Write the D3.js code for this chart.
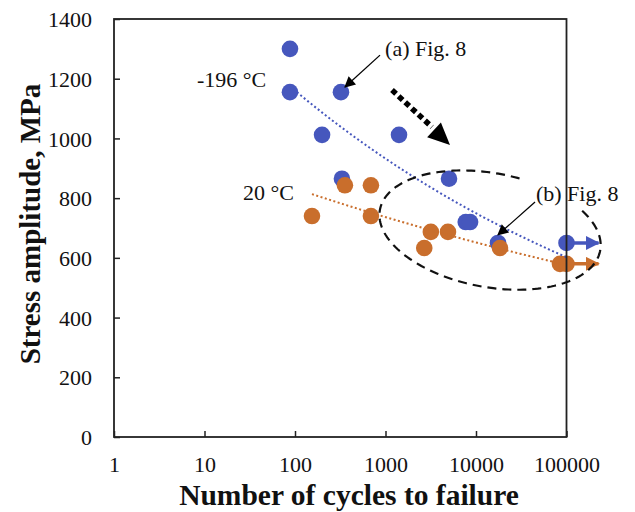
<!DOCTYPE html>
<html>
<head>
<meta charset="utf-8">
<script src="https://cdn.jsdelivr.net/npm/d3@7"></script>
<style>
  body { margin: 0; background: #fff; }
  svg { display: block; }
  text { font-family: "Liberation Serif", "Times New Roman", serif; fill: #111; }
</style>
</head>
<body>
<div id="grafico"></div>
<script>
// curva S-N: amplitud de tension vs ciclos a la falla, -196 °C y 20 °C

// serie -196 °C (azul)
var ciclosFrio = [88, 88, 322, 199, 1410, 330, 5030, 7700, 8600, 17500, 100000];
var tensionFrio = [1300, 1155, 1155, 1012, 1012, 865, 865, 720, 720, 650, 650];

// serie 20 °C (naranja)
var ciclosAmb = [154, 356, 690, 690, 3170, 4900, 2680, 18400, 84700, 100000];
var tensionAmb = [740, 843, 843, 740, 687, 687, 633, 633, 580, 580];

// ensayos que no rompieron (flecha a la derecha)
var runoutFrio = [[100000, 650]];
var runoutAmb = [[100000, 580]];

var ticksX = [1, 10, 100, 1000, 10000, 100000];
var ticksY = [0, 200, 400, 600, 800, 1000, 1200, 1400];

var AZUL = "#4657bd";
var NARANJA = "#c96e2c";

var W = 635, H = 512;
var x = d3.scaleLog().domain([1, 100000]).range([114, 566.5]);
var y = d3.scaleLinear().domain([0, 1400]).range([437, 19]);

var svg = d3.select("#grafico").append("svg").attr("width", W).attr("height", H);

var defs = svg.append("defs");
function marcador(id, color, w, h) {
  defs.append("marker")
    .attr("id", id)
    .attr("viewBox", "0 0 10 10")
    .attr("refX", 9).attr("refY", 5)
    .attr("markerUnits", "userSpaceOnUse")
    .attr("markerWidth", w).attr("markerHeight", h)
    .attr("orient", "auto")
    .append("path").attr("d", "M0,0 L10,5 L0,10 Z").attr("fill", color);
}
marcador("flechaNegra", "#000", 13, 11);
marcador("flechaAzul", AZUL, 14, 14);
marcador("flechaNaranja", NARANJA, 14, 14);

// ajuste potencial tipo excel: log y = a + b log x
function ajustePotencia(xs, ys) {
  var lx = xs.map(Math.log10), ly = ys.map(Math.log10);
  var mx = d3.mean(lx), my = d3.mean(ly);
  var sxy = d3.sum(lx, function (v, i) { return (v - mx) * (ly[i] - my); });
  var sxx = d3.sum(lx, function (v) { return (v - mx) * (v - mx); });
  var b = sxy / sxx, a = my - b * mx;
  var xmin = d3.min(xs), xmax = d3.max(xs);
  return d3.range(0, 61).map(function (i) {
    var l = Math.log10(xmin) + (Math.log10(xmax) - Math.log10(xmin)) * i / 60;
    return [Math.pow(10, l), Math.pow(10, a + b * l)];
  });
}

// ejes (ticks hacia adentro)
var ejeX = d3.axisBottom(x).tickValues(ticksX).tickFormat(d3.format("d")).tickSizeInner(-6).tickSizeOuter(0).tickPadding(14);
var ejeY = d3.axisLeft(y).tickValues(ticksY).tickFormat(d3.format("d")).tickSizeInner(-6).tickSizeOuter(0).tickPadding(22);

var gx = svg.append("g").attr("transform", "translate(0,437)").call(ejeX);
var gy = svg.append("g").attr("transform", "translate(114,0)").call(ejeY);
[gx, gy].forEach(function (g) {
  g.select(".domain").remove();
  g.selectAll(".tick line").attr("stroke", "#222").attr("stroke-width", 1.5);
  g.selectAll(".tick text").style("font-size", "22px").attr("fill", "#111");
});
gx.selectAll(".tick text").attr("dy", "0.95em");
gy.selectAll(".tick text").attr("dy", "0.35em");

// puntos
function puntos(xs, ys, color) {
  svg.append("g").selectAll("circle")
    .data(xs.map(function (v, i) { return [v, ys[i]]; }))
    .enter().append("circle")
    .attr("cx", function (d) { return x(d[0]); })
    .attr("cy", function (d) { return y(d[1]); })
    .attr("r", 8.3)
    .attr("fill", color);
}
puntos(ciclosFrio, tensionFrio, AZUL);
puntos(ciclosAmb, tensionAmb, NARANJA);

// lineas de tendencia punteadas
var linea = d3.line().x(function (d) { return x(d[0]); }).y(function (d) { return y(d[1]); });
svg.append("path").datum(ajustePotencia(ciclosFrio, tensionFrio))
  .attr("d", linea).attr("fill", "none").attr("stroke", AZUL)
  .attr("stroke-width", 2).attr("stroke-dasharray", "2,2.5");
svg.append("path").datum(ajustePotencia(ciclosAmb, tensionAmb))
  .attr("d", linea).attr("fill", "none").attr("stroke", NARANJA)
  .attr("stroke-width", 2).attr("stroke-dasharray", "2,2.5");

// flechas de runout
function runout(lista, color, id) {
  svg.append("g").selectAll("line").data(lista).enter().append("line")
    .attr("x1", function (d) { return x(d[0]); })
    .attr("x2", function (d) { return x(d[0]) + 32; })
    .attr("y1", function (d) { return y(d[1]); })
    .attr("y2", function (d) { return y(d[1]); })
    .attr("stroke", color).attr("stroke-width", 3.5)
    .attr("marker-end", "url(#" + id + ")");
}
runout(runoutFrio, AZUL, "flechaAzul");
runout(runoutAmb, NARANJA, "flechaNaranja");

// marco del grafico
svg.append("rect")
  .attr("x", 114).attr("y", 19)
  .attr("width", x(100000) - 114).attr("height", 437 - 19)
  .attr("fill", "none").attr("stroke", "#222").attr("stroke-width", 1.8);

// elipse punteada con hueco arriba a la derecha
var elipse = { cx: 14300, cy: 693, rx: 112, ry: 57, giro: 10.5, desde: -39, hasta: 282 };
(function () {
  var c = [x(elipse.cx), y(elipse.cy)];
  var g = elipse.giro * Math.PI / 180;
  var pts = d3.range(elipse.desde, elipse.hasta + 1, 2).map(function (t) {
    var r = t * Math.PI / 180;
    var lx = elipse.rx * Math.cos(r), ly = elipse.ry * Math.sin(r);
    return [c[0] + lx * Math.cos(g) - ly * Math.sin(g), c[1] + lx * Math.sin(g) + ly * Math.cos(g)];
  });
  svg.append("path").attr("d", d3.line()(pts))
    .attr("fill", "none").attr("stroke", "#111").attr("stroke-width", 2.2)
    .attr("stroke-dasharray", "9,6");
})();

// flecha gruesa punteada (tendencia a bajar)
var flechaGruesa = { desde: [1180, 1162], hasta: [3265, 1038], punta: [5160, 978] };
svg.append("line")
  .attr("x1", x(flechaGruesa.desde[0])).attr("y1", y(flechaGruesa.desde[1]))
  .attr("x2", x(flechaGruesa.hasta[0])).attr("y2", y(flechaGruesa.hasta[1]))
  .attr("stroke", "#000").attr("stroke-width", 5.5).attr("stroke-dasharray", "5.5,3.5");
svg.append("path")
  .attr("d", function () {
    var tip = [x(flechaGruesa.punta[0]), y(flechaGruesa.punta[1])];
    var ini = [x(flechaGruesa.desde[0]), y(flechaGruesa.desde[1])];
    var ang = Math.atan2(tip[1] - ini[1], tip[0] - ini[0]);
    var L = 22, A = 10;
    var bx = tip[0] - L * Math.cos(ang), by = tip[1] - L * Math.sin(ang);
    return "M" + tip + " L" + [bx + A * Math.sin(ang), by - A * Math.cos(ang)] +
      " L" + [bx - A * Math.sin(ang), by + A * Math.cos(ang)] + " Z";
  })
  .attr("fill", "#000");

// anotaciones
var notas = [
  { texto: "(a) Fig. 8", tx: 990, ty: 1275, desde: [870, 1279], hasta: [357, 1172] },
  { texto: "(b) Fig. 8", tx: 46000, ty: 790, desde: [44900, 787], hasta: [17500, 677] }
];
notas.forEach(function (n) {
  svg.append("line")
    .attr("x1", x(n.desde[0])).attr("y1", y(n.desde[1]))
    .attr("x2", x(n.hasta[0])).attr("y2", y(n.hasta[1]))
    .attr("stroke", "#000").attr("stroke-width", 1.3)
    .attr("marker-end", "url(#flechaNegra)");
  svg.append("text").attr("x", x(n.tx)).attr("y", y(n.ty))
    .style("font-size", "22px").text(n.texto);
});

svg.append("text").attr("x", 197).attr("y", 87).style("font-size", "22px").text("-196 °C");
svg.append("text").attr("x", 243).attr("y", 200).style("font-size", "22px").text("20 °C");

// titulos de ejes
svg.append("text")
  .attr("x", 349).attr("y", 505)
  .attr("text-anchor", "middle")
  .style("font-size", "29.5px").style("font-weight", "bold")
  .text("Number of cycles to failure");
svg.append("text")
  .attr("transform", "translate(40,224) rotate(-90)")
  .attr("text-anchor", "middle")
  .style("font-size", "29px").style("font-weight", "bold")
  .text("Stress amplitude, MPa");
</script>
</body>
</html>
